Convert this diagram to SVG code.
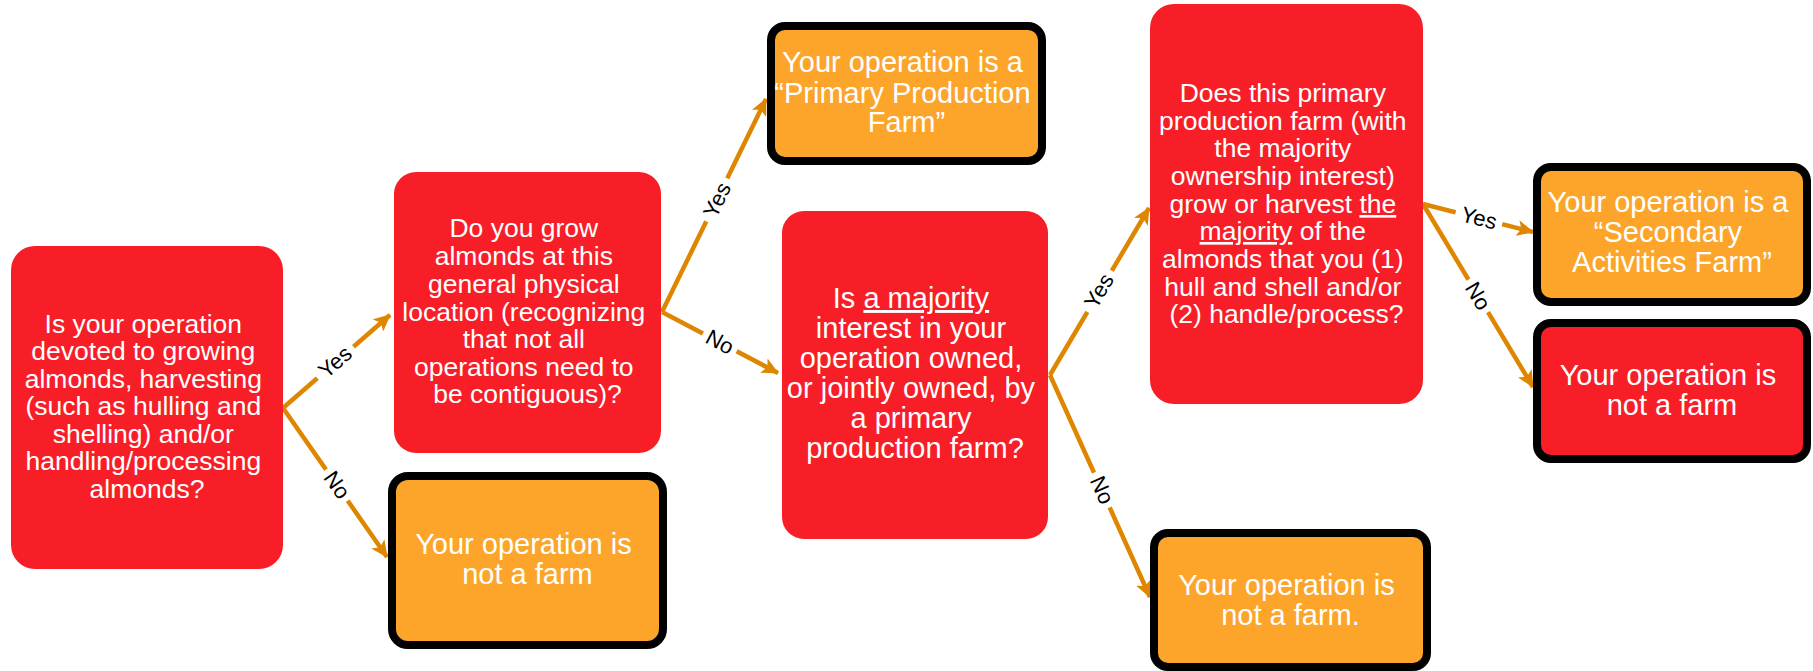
<svg xmlns="http://www.w3.org/2000/svg" width="1813" height="671" viewBox="0 0 1813 671">
<style>
.q{fill:#F71E28}
.o{fill:#FCA52A;stroke:#000;stroke-width:8}
.r{fill:#F71E28;stroke:#000;stroke-width:8}
.t{font-family:"Liberation Sans",Arial,sans-serif;fill:#fff;text-anchor:middle}
.s{font-size:26.5px}
.b{font-size:29px}
.c{stroke:#DF8600;stroke-width:4.5;fill:none}
.lb{font-family:"Liberation Sans",Arial,sans-serif;font-size:22px;fill:#000;text-anchor:middle;dominant-baseline:central}
.u{text-decoration:underline}
</style>
<defs>
<marker id="ah" markerUnits="userSpaceOnUse" markerWidth="18" markerHeight="16" refX="16" refY="8" orient="auto">
<path d="M0,0 L17,8 L0,16 L4,8 z" fill="#DF8600"/>
</marker>
</defs>
<g id="connectors">
<path class="c" d="M283,408 L390,315" marker-end="url(#ah)"/>
<path class="c" d="M283,408 L387,557" marker-end="url(#ah)"/>
<path class="c" d="M662,312 L766,99" marker-end="url(#ah)"/>
<path class="c" d="M662,312 L778,373" marker-end="url(#ah)"/>
<path class="c" d="M1050,375 L1149,208" marker-end="url(#ah)"/>
<path class="c" d="M1050,375 L1150,597" marker-end="url(#ah)"/>
<path class="c" d="M1423,204 L1533,232" marker-end="url(#ah)"/>
<path class="c" d="M1423,204 L1533,387" marker-end="url(#ah)"/>
<g transform="translate(335,362) rotate(-41)"><rect x="-24" y="-13" width="48" height="26" fill="#fff"/><text class="lb" x="0" y="0">Yes</text></g>
<g transform="translate(337,485) rotate(55)"><rect x="-19" y="-13" width="38" height="26" fill="#fff"/><text class="lb" x="0" y="0">No</text></g>
<g transform="translate(717,200) rotate(-64)"><rect x="-24" y="-13" width="48" height="26" fill="#fff"/><text class="lb" x="0" y="0">Yes</text></g>
<g transform="translate(720,342) rotate(28)"><rect x="-19" y="-13" width="38" height="26" fill="#fff"/><text class="lb" x="0" y="0">No</text></g>
<g transform="translate(1099,291) rotate(-59.5)"><rect x="-24" y="-13" width="48" height="26" fill="#fff"/><text class="lb" x="0" y="0">Yes</text></g>
<g transform="translate(1102,490) rotate(66)"><rect x="-19" y="-13" width="38" height="26" fill="#fff"/><text class="lb" x="0" y="0">No</text></g>
<g transform="translate(1479,218) rotate(14)"><rect x="-24" y="-13" width="48" height="26" fill="#fff"/><text class="lb" x="0" y="0">Yes</text></g>
<g transform="translate(1478,296) rotate(59)"><rect x="-19" y="-13" width="38" height="26" fill="#fff"/><text class="lb" x="0" y="0">No</text></g>
</g>
<g id="nodeA">
<rect class="q" x="11" y="246" width="272" height="323" rx="24"/>
<text class="t s">
<tspan x="147" y="333">Is your operation</tspan>
<tspan x="147" y="360">devoted to growing</tspan>
<tspan x="147" y="388">almonds, harvesting</tspan>
<tspan x="147" y="415">(such as hulling and</tspan>
<tspan x="147" y="443">shelling) and/or</tspan>
<tspan x="147" y="470">handling/processing</tspan>
<tspan x="147" y="498">almonds?</tspan>
</text>
</g>
<g id="nodeB">
<rect class="q" x="394" y="172" width="267" height="281" rx="22"/>
<text class="t s">
<tspan x="527.5" y="237">Do you grow</tspan>
<tspan x="527.5" y="265">almonds at this</tspan>
<tspan x="527.5" y="293">general physical</tspan>
<tspan x="527.5" y="321">location (recognizing</tspan>
<tspan x="527.5" y="348">that not all</tspan>
<tspan x="527.5" y="376">operations need to</tspan>
<tspan x="527.5" y="403">be contiguous)?</tspan>
</text>
</g>
<g id="nodeC">
<rect class="o" x="771" y="26" width="271" height="135" rx="14"/>
<text class="t b">
<tspan x="906.5" y="72">Your operation is a</tspan>
<tspan x="906.5" y="103">“Primary Production</tspan>
<tspan x="906.5" y="132">Farm”</tspan>
</text>
</g>
<g id="nodeD">
<rect class="q" x="782" y="211" width="266" height="328" rx="22"/>
<text class="t b">
<tspan x="915" y="308">Is <tspan class="u">a majority</tspan></tspan>
<tspan x="915" y="338">interest in your</tspan>
<tspan x="915" y="368">operation owned,</tspan>
<tspan x="915" y="398">or jointly owned, by</tspan>
<tspan x="915" y="428">a primary</tspan>
<tspan x="915" y="458">production farm?</tspan>
</text>
</g>
<g id="nodeE">
<rect class="q" x="1150" y="4" width="273" height="400" rx="24"/>
<text class="t s">
<tspan x="1286.5" y="102">Does this primary</tspan>
<tspan x="1286.5" y="130">production farm (with</tspan>
<tspan x="1286.5" y="157">the majority</tspan>
<tspan x="1286.5" y="185">ownership interest)</tspan>
<tspan x="1286.5" y="213">grow or harvest <tspan class="u">the</tspan></tspan>
<tspan x="1286.5" y="240"><tspan class="u">majority</tspan> of the</tspan>
<tspan x="1286.5" y="268">almonds that you (1)</tspan>
<tspan x="1286.5" y="296">hull and shell and/or</tspan>
<tspan x="1286.5" y="323">(2) handle/process?</tspan>
</text>
</g>
<g id="nodeF">
<rect class="o" x="1537" y="167" width="270" height="135" rx="14"/>
<text class="t b">
<tspan x="1672" y="212">Your operation is a</tspan>
<tspan x="1672" y="242">“Secondary</tspan>
<tspan x="1672" y="272">Activities Farm”</tspan>
</text>
</g>
<g id="nodeG">
<rect class="r" x="1537" y="323" width="270" height="136" rx="14"/>
<text class="t b">
<tspan x="1672" y="385">Your operation is</tspan>
<tspan x="1672" y="415">not a farm</tspan>
</text>
</g>
<g id="nodeH">
<rect class="o" x="392" y="476" width="271" height="169" rx="16"/>
<text class="t b">
<tspan x="527.5" y="554">Your operation is</tspan>
<tspan x="527.5" y="584">not a farm</tspan>
</text>
</g>
<g id="nodeI">
<rect class="o" x="1154" y="533" width="273" height="134" rx="14"/>
<text class="t b">
<tspan x="1290.5" y="595">Your operation is</tspan>
<tspan x="1290.5" y="625">not a farm.</tspan>
</text>
</g>
</svg>
